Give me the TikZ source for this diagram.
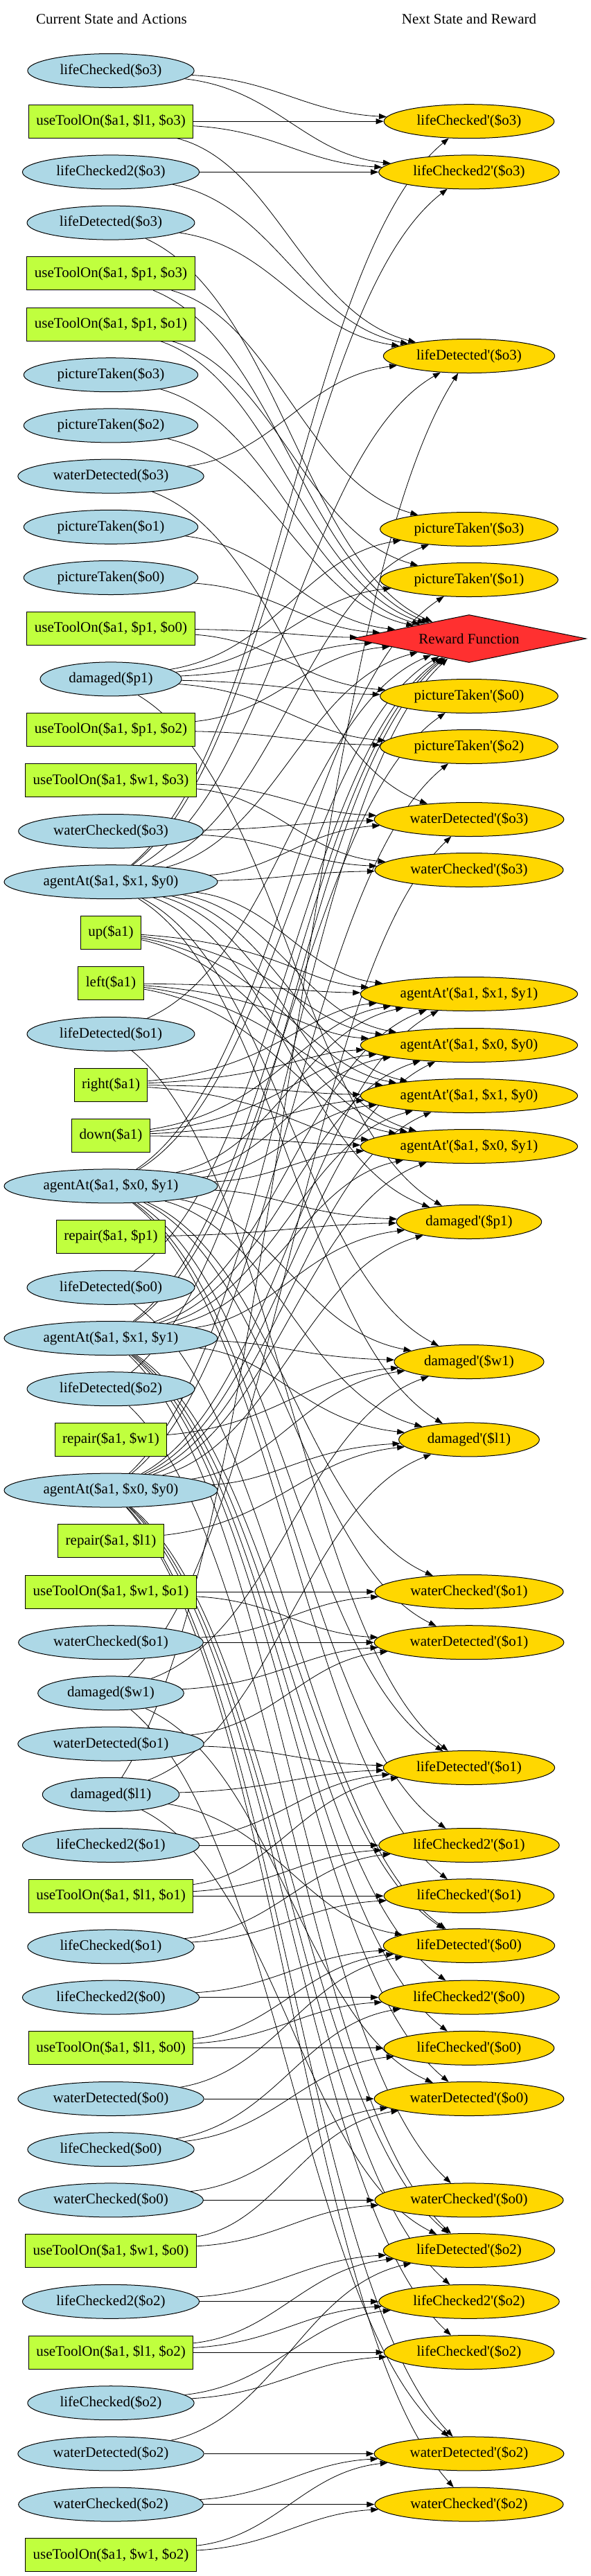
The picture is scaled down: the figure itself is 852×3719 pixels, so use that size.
\documentclass[tikz,border=0pt]{standalone}
\usepackage{fontspec}
\newfontfamily\gvfont{Liberation Serif}
\usetikzlibrary{shapes.geometric,arrows.meta,calc}
\pgfdeclarelayer{bg}
\pgfsetlayers{bg,main}
\definecolor{lb}{HTML}{ADD8E6}
\definecolor{gr}{HTML}{C0FF3E}
\definecolor{gd}{HTML}{FFD700}
\definecolor{rd}{HTML}{FF3030}
\tikzset{
  base/.style={font=\gvfont\fontsize{21}{25}\selectfont, draw=black, line width=1pt},
  sv/.style={base, ellipse, fill=lb, inner xsep=11.5pt, inner ysep=2pt, minimum height=49pt},
  act/.style={base, rectangle, fill=gr, inner xsep=11pt, inner ysep=2pt, minimum height=48pt},
  nx/.style={base, ellipse, fill=gd, inner xsep=11.5pt, inner ysep=2pt, minimum height=49pt},
  rew/.style={base, diamond, fill=rd, shape aspect=4.9, inner sep=0pt, minimum width=338pt, minimum height=69pt},
  ttl/.style={font=\gvfont\fontsize{21}{25}\selectfont},
  e/.style={line width=0.8pt, -{Triangle[length=11pt,width=8pt]}}
}
\newcommand\edg[2]{\draw[e] let \p1=(#1.center), \p2=(#2.center) in (#1) .. controls ({\x1+0.46*(\x2-\x1)},{\y1+0.18*(\y2-\y1)}) and ({\x2-0.46*(\x2-\x1)},{\y2-0.18*(\y2-\y1)}) .. (#2);}
\newcommand\objedges[2]{%
 \edg{lc#1}{nlc#1}\edg{lc#1}{nlcc#1}%
 \edg{ul#1}{nlc#1}\edg{ul#1}{nlcc#1}\edg{ul#1}{nld#1}%
 \edg{lcc#1}{nlcc#1}\edg{lcc#1}{nld#1}%
 \edg{ld#1}{nld#1}\edg{ld#1}{R}%
 \edg{wd#1}{nwd#1}\edg{wd#1}{nld#1}%
 \edg{wc#1}{nwc#1}\edg{wc#1}{nwd#1}%
 \edg{uw#1}{nwc#1}\edg{uw#1}{nwd#1}%
 \edg{tp#1}{npt#1}\edg{tp#1}{R}%
 \edg{pt#1}{R}%
 \edg{#2}{nlc#1}\edg{#2}{nlcc#1}\edg{#2}{nld#1}\edg{#2}{npt#1}\edg{#2}{nwc#1}\edg{#2}{nwd#1}%
 \edg{dp}{npt#1}\edg{dw}{nwd#1}\edg{dl}{nld#1}%
}
\newcommand\agentedges[1]{%
 \edg{#1}{na11}\edg{#1}{na00}\edg{#1}{na10}\edg{#1}{na01}%
 \edg{#1}{ndp}\edg{#1}{ndw}\edg{#1}{ndl}\edg{#1}{R}%
}
\newcommand\moveedges[1]{%
 \edg{#1}{na11}\edg{#1}{na00}\edg{#1}{na10}\edg{#1}{na01}%
}
\begin{document}
\begin{tikzpicture}[x=1pt,y=1pt]
\useasboundingbox (0,0) rectangle (852,-3719);
\node[ttl] (t1) at (161,-27) {Current State and Actions};
\node[ttl] (t2) at (677,-27) {Next State and Reward};
% left column
\node[sv]  (lc3)  at (160,-102)    {lifeChecked(\$o3)};
\node[act] (ul3)  at (160,-175.2)  {useToolOn(\$a1, \$l1, \$o3)};
\node[sv]  (lcc3) at (160,-248.4)  {lifeChecked2(\$o3)};
\node[sv]  (ld3)  at (160,-321.6)  {lifeDetected(\$o3)};
\node[act] (tp3)  at (160,-394.8)  {useToolOn(\$a1, \$p1, \$o3)};
\node[act] (tp1)  at (160,-468)    {useToolOn(\$a1, \$p1, \$o1)};
\node[sv]  (pt3)  at (160,-541.2)  {pictureTaken(\$o3)};
\node[sv]  (pt2)  at (160,-614.4)  {pictureTaken(\$o2)};
\node[sv]  (wd3)  at (160,-687.6)  {waterDetected(\$o3)};
\node[sv]  (pt1)  at (160,-760.8)  {pictureTaken(\$o1)};
\node[sv]  (pt0)  at (160,-834)    {pictureTaken(\$o0)};
\node[act] (tp0)  at (160,-907.2)  {useToolOn(\$a1, \$p1, \$o0)};
\node[sv]  (dp)   at (160,-980.4)  {damaged(\$p1)};
\node[act] (tp2)  at (160,-1053.6) {useToolOn(\$a1, \$p1, \$o2)};
\node[act] (uw3)  at (160,-1126.8) {useToolOn(\$a1, \$w1, \$o3)};
\node[sv]  (wc3)  at (160,-1200)   {waterChecked(\$o3)};
\node[sv]  (a10)  at (160,-1273.2) {agentAt(\$a1, \$x1, \$y0)};
\node[act] (mup)  at (160,-1346.4) {up(\$a1)};
\node[act] (mleft) at (160,-1419.6) {left(\$a1)};
\node[sv]  (ld1)  at (160,-1492.8) {lifeDetected(\$o1)};
\node[act] (mright) at (160,-1566) {right(\$a1)};
\node[act] (mdown) at (160,-1639.2) {down(\$a1)};
\node[sv]  (a01)  at (160,-1712.4) {agentAt(\$a1, \$x0, \$y1)};
\node[act] (rp)   at (160,-1785.6) {repair(\$a1, \$p1)};
\node[sv]  (ld0)  at (160,-1858.8) {lifeDetected(\$o0)};
\node[sv]  (a11)  at (160,-1932)   {agentAt(\$a1, \$x1, \$y1)};
\node[sv]  (ld2)  at (160,-2005.2) {lifeDetected(\$o2)};
\node[act] (rw)   at (160,-2078.4) {repair(\$a1, \$w1)};
\node[sv]  (a00)  at (160,-2151.6) {agentAt(\$a1, \$x0, \$y0)};
\node[act] (rl)   at (160,-2224.8) {repair(\$a1, \$l1)};
\node[act] (uw1)  at (160,-2298)   {useToolOn(\$a1, \$w1, \$o1)};
\node[sv]  (wc1)  at (160,-2371.2) {waterChecked(\$o1)};
\node[sv]  (dw)   at (160,-2444.4) {damaged(\$w1)};
\node[sv]  (wd1)  at (160,-2517.6) {waterDetected(\$o1)};
\node[sv]  (dl)   at (160,-2590.8) {damaged(\$l1)};
\node[sv]  (lcc1) at (160,-2664)   {lifeChecked2(\$o1)};
\node[act] (ul1)  at (160,-2737.2) {useToolOn(\$a1, \$l1, \$o1)};
\node[sv]  (lc1)  at (160,-2810.4) {lifeChecked(\$o1)};
\node[sv]  (lcc0) at (160,-2883.6) {lifeChecked2(\$o0)};
\node[act] (ul0)  at (160,-2956.8) {useToolOn(\$a1, \$l1, \$o0)};
\node[sv]  (wd0)  at (160,-3030)   {waterDetected(\$o0)};
\node[sv]  (lc0)  at (160,-3103.2) {lifeChecked(\$o0)};
\node[sv]  (wc0)  at (160,-3176.4) {waterChecked(\$o0)};
\node[act] (uw0)  at (160,-3249.6) {useToolOn(\$a1, \$w1, \$o0)};
\node[sv]  (lcc2) at (160,-3322.8) {lifeChecked2(\$o2)};
\node[act] (ul2)  at (160,-3396)   {useToolOn(\$a1, \$l1, \$o2)};
\node[sv]  (lc2)  at (160,-3469.2) {lifeChecked(\$o2)};
\node[sv]  (wd2)  at (160,-3542.4) {waterDetected(\$o2)};
\node[sv]  (wc2)  at (160,-3615.6) {waterChecked(\$o2)};
\node[act] (uw2)  at (160,-3688.8) {useToolOn(\$a1, \$w1, \$o2)};
% right column
\node[nx] (nlc3)  at (677,-175.2)  {lifeChecked'(\$o3)};
\node[nx] (nlcc3) at (677,-248.4)  {lifeChecked2'(\$o3)};
\node[nx] (nld3)  at (677,-514)    {lifeDetected'(\$o3)};
\node[nx] (npt3)  at (677,-764)    {pictureTaken'(\$o3)};
\node[nx] (npt1)  at (677,-837)    {pictureTaken'(\$o1)};
\node[rew] (R)    at (677,-922)    {Reward Function};
\node[nx] (npt0)  at (677,-1005)   {pictureTaken'(\$o0)};
\node[nx] (npt2)  at (677,-1078)   {pictureTaken'(\$o2)};
\node[nx] (nwd3)  at (677,-1183)   {waterDetected'(\$o3)};
\node[nx] (nwc3)  at (677,-1256)   {waterChecked'(\$o3)};
\node[nx] (na11)  at (677,-1435)   {agentAt'(\$a1, \$x1, \$y1)};
\node[nx] (na00)  at (677,-1509)   {agentAt'(\$a1, \$x0, \$y0)};
\node[nx] (na10)  at (677,-1582)   {agentAt'(\$a1, \$x1, \$y0)};
\node[nx] (na01)  at (677,-1655)   {agentAt'(\$a1, \$x0, \$y1)};
\node[nx] (ndp)   at (677,-1764)   {damaged'(\$p1)};
\node[nx] (ndw)   at (677,-1966)   {damaged'(\$w1)};
\node[nx] (ndl)   at (677,-2078.4) {damaged'(\$l1)};
\node[nx] (nwc1)  at (677,-2298)   {waterChecked'(\$o1)};
\node[nx] (nwd1)  at (677,-2371.2) {waterDetected'(\$o1)};
\node[nx] (nld1)  at (677,-2552)   {lifeDetected'(\$o1)};
\node[nx] (nlcc1) at (677,-2664)   {lifeChecked2'(\$o1)};
\node[nx] (nlc1)  at (677,-2737.2) {lifeChecked'(\$o1)};
\node[nx] (nld0)  at (677,-2809)   {lifeDetected'(\$o0)};
\node[nx] (nlcc0) at (677,-2883.6) {lifeChecked2'(\$o0)};
\node[nx] (nlc0)  at (677,-2956.8) {lifeChecked'(\$o0)};
\node[nx] (nwd0)  at (677,-3030)   {waterDetected'(\$o0)};
\node[nx] (nwc0)  at (677,-3176.4) {waterChecked'(\$o0)};
\node[nx] (nld2)  at (677,-3249)   {lifeDetected'(\$o2)};
\node[nx] (nlcc2) at (677,-3322.8) {lifeChecked2'(\$o2)};
\node[nx] (nlc2)  at (677,-3396)   {lifeChecked'(\$o2)};
\node[nx] (nwd2)  at (677,-3542.4) {waterDetected'(\$o2)};
\node[nx] (nwc2)  at (677,-3615.6) {waterChecked'(\$o2)};
% edges
\begin{pgfonlayer}{bg}
\objedges{3}{a10}
\objedges{1}{a01}
\objedges{0}{a11}
\objedges{2}{a00}
\agentedges{a10}\agentedges{a01}\agentedges{a11}\agentedges{a00}
\moveedges{mup}\moveedges{mleft}\moveedges{mright}\moveedges{mdown}
\edg{dp}{R}\edg{dp}{ndp}\edg{dw}{ndw}\edg{dl}{ndl}
\edg{rp}{ndp}\edg{rw}{ndw}\edg{rl}{ndl}
\end{pgfonlayer}
\end{tikzpicture}
\end{document}
